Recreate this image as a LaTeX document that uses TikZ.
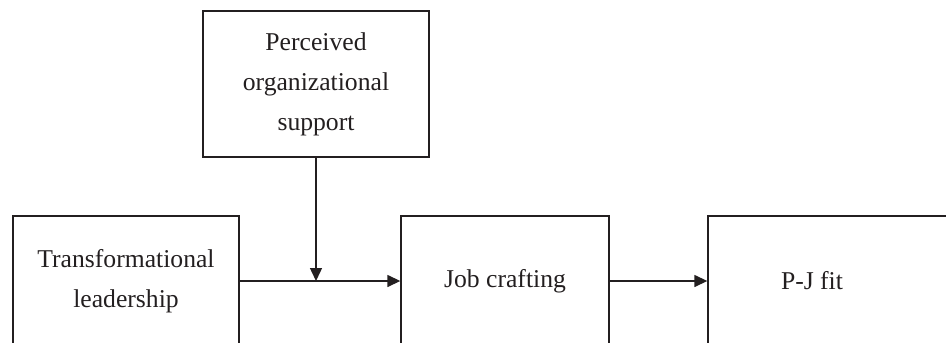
\documentclass[tikz,border=0pt]{standalone}
\usepackage{fontspec}
\setmainfont{Liberation Serif}
\usepackage{tikz}
\usetikzlibrary{arrows.meta}
\definecolor{ink}{RGB}{35,31,32}

\begin{document}
\begin{tikzpicture}[x=0.02cm,y=0.02cm,
    box/.style={draw=ink, text=ink, line width=0.8pt, inner sep=0pt, align=center,
        font=\fontsize{14.6}{22.8}\selectfont},
    arr/.style={draw=ink, line width=0.8pt, -{Triangle[length=0.26cm,width=0.24cm]}}]
    \useasboundingbox (0,0) rectangle (946,342);
    \clip (0,0) rectangle (946,342);
    \node [box, minimum width=4.52cm, minimum height=2.92cm] (0) at (316, 258) {Perceived\\organizational\\support};
	\node [box, minimum width=4.52cm, minimum height=2.6cm] (1) at (126, 61) {Transformational\\leadership};
	\node [box, minimum width=4.16cm, minimum height=2.6cm] (2) at (505, 61) {Job crafting};
	\node [box, minimum width=5.04cm, minimum height=2.6cm] (3) at (834, 61) {};
	\node [box, draw=none] (4) at (812, 61) {P-J fit};
	\coordinate (5) at (316, 61);
	% edges
	\draw [arr] (1.east) to (2.west);
	\draw [arr] (0.south) to (5);
	\draw [arr] (2.east) to (3.west);
\end{tikzpicture}
\end{document}
